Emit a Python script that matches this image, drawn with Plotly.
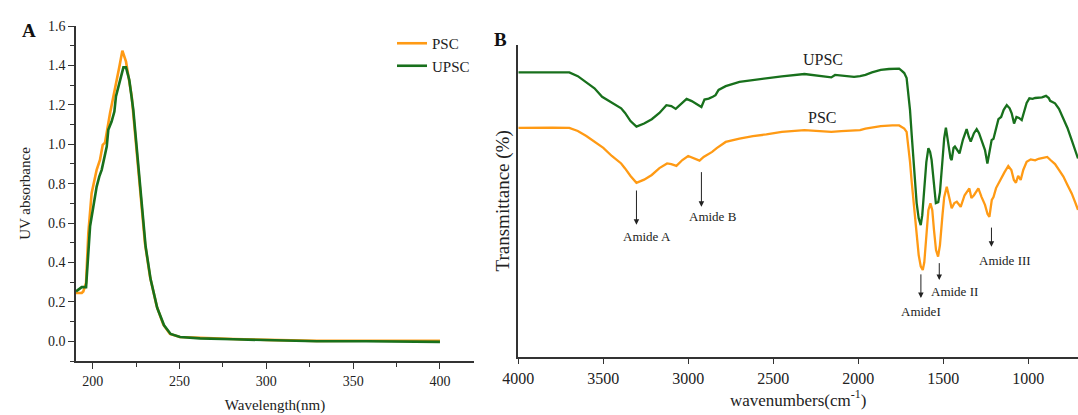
import plotly.graph_objects as go

# ---------------- Panel A: UV spectra ----------------
uv_wl_psc = [190.4, 193.7, 194.6, 196.2, 197.5, 199.4, 202.3, 204.2, 205.8, 207.1, 210.0, 212.9,
             215.4, 217.1, 219.2, 222.5, 225.3, 227.3, 230.1, 233.0, 236.9, 240.7, 244.5, 250.3,
             261.8, 281.0, 300.2, 329.0, 357.8, 400.0]
uv_abs_psc = [0.245, 0.245, 0.253, 0.296, 0.549, 0.752, 0.870, 0.920, 0.997, 1.008, 1.157, 1.275,
              1.394, 1.475, 1.419, 1.242, 0.971, 0.752, 0.498, 0.329, 0.177, 0.084, 0.037, 0.022,
              0.017, 0.012, 0.007, 0.002, 0.003, 0.002]

uv_wl_upsc = [190.4, 192.7, 193.7, 196.2, 196.9, 198.5, 200.4, 202.3, 203.8, 205.2, 208.1, 209.0,
              210.9, 212.5, 213.4, 215.7, 217.7, 219.2, 221.1, 223.4, 225.7, 227.6, 230.5, 233.4,
              237.2, 241.1, 244.9, 250.3, 261.8, 281.0, 300.2, 329.0, 357.8, 400.0]
uv_abs_upsc = [0.253, 0.270, 0.275, 0.275, 0.380, 0.583, 0.684, 0.785, 0.836, 0.870, 0.988, 1.073,
               1.115, 1.166, 1.242, 1.318, 1.390, 1.390, 1.326, 1.174, 0.954, 0.735, 0.481, 0.313,
               0.169, 0.081, 0.037, 0.022, 0.015, 0.010, 0.005, 0.000, 0.000, -0.003]

# ---------------- Panel B: FTIR spectra ----------------
ir_wn_upsc = [4000, 3900, 3800, 3700, 3650, 3600, 3552, 3507, 3450, 3395, 3372, 3340, 3305, 3260,
              3215, 3170, 3129, 3100, 3074, 3040, 3010, 2980, 2957, 2923, 2905, 2880, 2856, 2840,
              2822, 2780, 2699, 2620, 2541, 2450, 2317, 2250, 2200, 2159, 2137, 2080, 2025, 1990,
              1958, 1920, 1868, 1820, 1778, 1760, 1744, 1730, 1716, 1706, 1696, 1686, 1676, 1666,
              1657, 1645, 1633, 1624, 1614, 1600, 1588, 1578, 1569, 1556, 1544, 1530, 1520, 1505,
              1495, 1485, 1475, 1458, 1451, 1440, 1432, 1420, 1405, 1385, 1363, 1350, 1339, 1320,
              1304, 1290, 1274, 1255, 1241, 1225, 1216, 1205, 1190, 1176, 1160, 1145, 1127, 1110,
              1098, 1084, 1070, 1055, 1039, 1025, 1010, 994, 975, 960, 941, 920, 896, 880, 872,
              857, 843, 820, 794, 770, 745, 725, 708]
ir_t_upsc = [91.2, 91.2, 91.3, 91.2, 90.0, 88.1, 86.1, 83.4, 81.4, 79.7, 78.2, 75.6, 73.8, 74.8,
             76.2, 78.2, 80.7, 80.4, 79.5, 81.2, 82.7, 82.0, 81.3, 80.1, 82.5, 82.8, 83.4, 83.9,
             85.6, 86.8, 88.2, 88.8, 89.3, 89.9, 90.7, 90.2, 89.9, 89.6, 90.4, 90.2, 89.8, 90.0,
             90.4, 91.2, 92.0, 92.3, 92.5, 92.4, 91.7, 91.0, 89.4, 83.9, 79.1, 71.1, 63.1, 55.9,
             49.3, 44.4, 42.2, 45.4, 52.5, 62.4, 66.9, 65.7, 63.1, 55.1, 49.3, 49.6, 52.8, 63.1,
             70.1, 73.5, 69.5, 63.7, 63.1, 67.0, 67.4, 66.3, 65.2, 69.6, 73.0, 70.5, 69.0, 71.7,
             73.0, 71.7, 69.5, 66.3, 62.0, 66.3, 69.5, 69.9, 73.7, 76.2, 76.9, 79.2, 80.7, 79.7,
             78.1, 74.8, 76.9, 76.6, 75.9, 78.5, 81.4, 82.9, 82.7, 83.0, 83.2, 83.2, 83.7, 83.0, 82.1,
             81.7, 81.3, 79.5, 76.5, 73.4, 69.5, 66.3, 63.6]

ir_wn_psc = [4000, 3900, 3800, 3700, 3650, 3600, 3552, 3500, 3450, 3395, 3372, 3340, 3305, 3260,
             3215, 3170, 3125, 3100, 3070, 3035, 3001, 2970, 2934, 2910, 2890, 2860, 2833, 2780,
             2699, 2620, 2541, 2450, 2317, 2200, 2159, 2100, 2025, 1990, 1958, 1900, 1868, 1800,
             1760, 1745, 1730, 1716, 1706, 1696, 1686, 1676, 1660, 1645, 1633, 1621, 1612, 1600,
             1588, 1576, 1565, 1555, 1543, 1531, 1520, 1505, 1495, 1480, 1470, 1451, 1435, 1421,
             1398, 1375, 1347, 1335, 1320, 1294, 1275, 1255, 1240, 1229, 1215, 1205, 1190, 1166,
             1140, 1118, 1100, 1085, 1073, 1060, 1045, 1030, 1010, 986, 960, 940, 920, 889, 870,
             843, 820, 794, 770, 745, 725, 708]
ir_t_psc = [73.4, 73.5, 73.5, 73.4, 72.4, 70.8, 69.0, 67.0, 64.4, 62.0, 60.4, 58.0, 55.8, 56.8,
            58.3, 60.5, 62.0, 61.8, 61.2, 63.1, 64.4, 63.8, 62.9, 64.1, 64.7, 65.7, 66.9, 68.9,
            70.0, 70.8, 71.3, 72.1, 72.7, 72.4, 72.1, 72.4, 72.6, 72.7, 73.2, 73.7, 74.0, 74.2,
            74.2, 73.7, 73.2, 72.1, 67.9, 62.5, 56.0, 50.3, 40.6, 32.6, 29.0, 27.8, 30.3, 39.0,
            47.0, 49.2, 47.0, 40.6, 34.2, 32.1, 35.8, 45.5, 51.2, 54.5, 52.2, 47.6, 49.3, 49.7,
            48.1, 51.8, 54.0, 50.9, 51.8, 54.0, 51.2, 48.7, 45.8, 44.9, 50.3, 51.2, 54.1, 56.7,
            59.2, 61.2, 59.9, 56.7, 55.8, 58.0, 56.7, 59.9, 62.5, 63.3, 63.0, 63.5, 63.7, 64.1, 63.1,
            61.8, 59.9, 57.8, 55.1, 52.4, 49.6, 47.1]

# Peak labels: (text, arrow wavenumber, arrow tail T, arrow head T, text wavenumber, text T)
peak_labels = ["Amide A", "Amide B", "AmideI", "Amide II", "Amide III"]
peak_arrow_wn = [3305, 2923, 1632, 1524, 1217]
peak_arrow_from = [53.8, 59.7, 26.9, 30.5, 41.9]
peak_arrow_to = [42.3, 48.1, 18.8, 24.6, 35.3]
peak_text_wn = [3243, 2856, 1632, 1434, 1138]
peak_text_t = [38.5, 45.1, 14.4, 20.9, 31.0]

ORANGE = "#FF9A14"
GREEN = "#18701C"
FONT = "Liberation Serif"
W, H = 1078, 415

fig = go.Figure()
fig.add_trace(go.Scatter(x=uv_wl_psc, y=uv_abs_psc, mode="lines", name="PSC",
                         line=dict(color=ORANGE, width=2.6), xaxis="x", yaxis="y"))
fig.add_trace(go.Scatter(x=uv_wl_upsc, y=uv_abs_upsc, mode="lines", name="UPSC",
                         line=dict(color=GREEN, width=2.6), xaxis="x", yaxis="y"))
fig.add_trace(go.Scatter(x=ir_wn_upsc, y=ir_t_upsc, mode="lines", name="UPSC", showlegend=False,
                         line=dict(color=GREEN, width=2.3), xaxis="x2", yaxis="y2"))
fig.add_trace(go.Scatter(x=ir_wn_psc, y=ir_t_psc, mode="lines", name="PSC", showlegend=False,
                         line=dict(color=ORANGE, width=2.3), xaxis="x2", yaxis="y2"))

annotations = []
for lab, awn, a0, a1, twn, tt in zip(peak_labels, peak_arrow_wn, peak_arrow_from, peak_arrow_to,
                                     peak_text_wn, peak_text_t):
    annotations.append(dict(x=awn, y=a1, ax=awn, ay=a0, xref="x2", yref="y2", axref="x2", ayref="y2",
                            text="", showarrow=True, arrowhead=2, arrowsize=1.1, arrowwidth=1,
                            arrowcolor="#222"))
    annotations.append(dict(x=twn, y=tt, xref="x2", yref="y2", text=lab, showarrow=False,
                            font=dict(family=FONT, size=13, color="#222")))
annotations.append(dict(x=2205, y=95.4, xref="x2", yref="y2", text="UPSC", showarrow=False,
                        font=dict(family=FONT, size=16, color="#222")))
annotations.append(dict(x=2216, y=76.8, xref="x2", yref="y2", text="PSC", showarrow=False,
                        font=dict(family=FONT, size=16, color="#222")))
annotations.append(dict(x=20 / W, y=1 - 18 / H, xref="paper", yref="paper", text="<b>A</b>",
                        showarrow=False, font=dict(family=FONT, size=19, color="#111")))
annotations.append(dict(x=500 / W, y=1 - 27 / H, xref="paper", yref="paper", text="<b>B</b>",
                        showarrow=False, font=dict(family=FONT, size=19, color="#111")))

line_common = dict(showline=True, linecolor="#333", linewidth=1.5, ticks="outside",
                   tickcolor="#333", tickwidth=1.2, showgrid=False, zeroline=False)

fig.update_layout(
    width=W, height=H, margin=dict(l=0, r=0, t=0, b=0, autoexpand=False),
    paper_bgcolor="white", plot_bgcolor="white",
    font=dict(family=FONT, color="#222"),
    xaxis=dict(domain=[76 / W, 474 / W], range=[190.4, 419.6], tickvals=[200, 250, 300, 350, 400],
               ticklen=6, minor=dict(tickvals=[225, 275, 325, 375], ticks="outside", ticklen=4,
                                     tickcolor="#333"),
               title=dict(text="Wavelength(nm)", font=dict(family=FONT, size=15), standoff=12),
               anchor="y", tickfont=dict(family=FONT, size=14, color="#222"), **line_common),
    yaxis=dict(domain=[(H - 361) / H, (H - 26) / H], range=[-0.1, 1.6],
               tickvals=[0, 0.2, 0.4, 0.6, 0.8, 1.0, 1.2, 1.4, 1.6], tickformat=".1f", ticklen=6,
               minor=dict(tickvals=[-0.1, 0.1, 0.3, 0.5, 0.7, 0.9, 1.1, 1.3, 1.5], ticks="outside",
                          ticklen=4, tickcolor="#333"),
               title=dict(text="UV absorbance", font=dict(family=FONT, size=15), standoff=14),
               anchor="x", tickfont=dict(family=FONT, size=14, color="#222"), **line_common),
    xaxis2=dict(domain=[518.3 / W, 1.0], range=[4000, 708],
                tickvals=[4000, 3500, 3000, 2500, 2000, 1500, 1000], ticklen=6,
                title=dict(text="wavenumbers(cm<sup>-1</sup>)", font=dict(family=FONT, size=17),
                           standoff=8),
                anchor="y2", tickfont=dict(family=FONT, size=16, color="#222"), **line_common),
    yaxis2=dict(domain=[(H - 356.7) / H, (H - 45) / H], range=[0, 100], showline=True,
                linecolor="#333", linewidth=1.5, showticklabels=False, ticks="", showgrid=False,
                zeroline=False, title=dict(text="Transmittance (%)", font=dict(family=FONT, size=19),
                                           standoff=2),
                anchor="x2"),
    legend=dict(x=392 / W, y=1 - 27 / H, xanchor="left", yanchor="top", bgcolor="rgba(0,0,0,0)",
                font=dict(family=FONT, size=15, color="#222"), tracegroupgap=0,
                itemwidth=30),
    annotations=annotations,
    showlegend=True,
)

fig.write_html("out.html", config={"displayModeBar": False},
               post_script="document.body.style.margin='0';")
